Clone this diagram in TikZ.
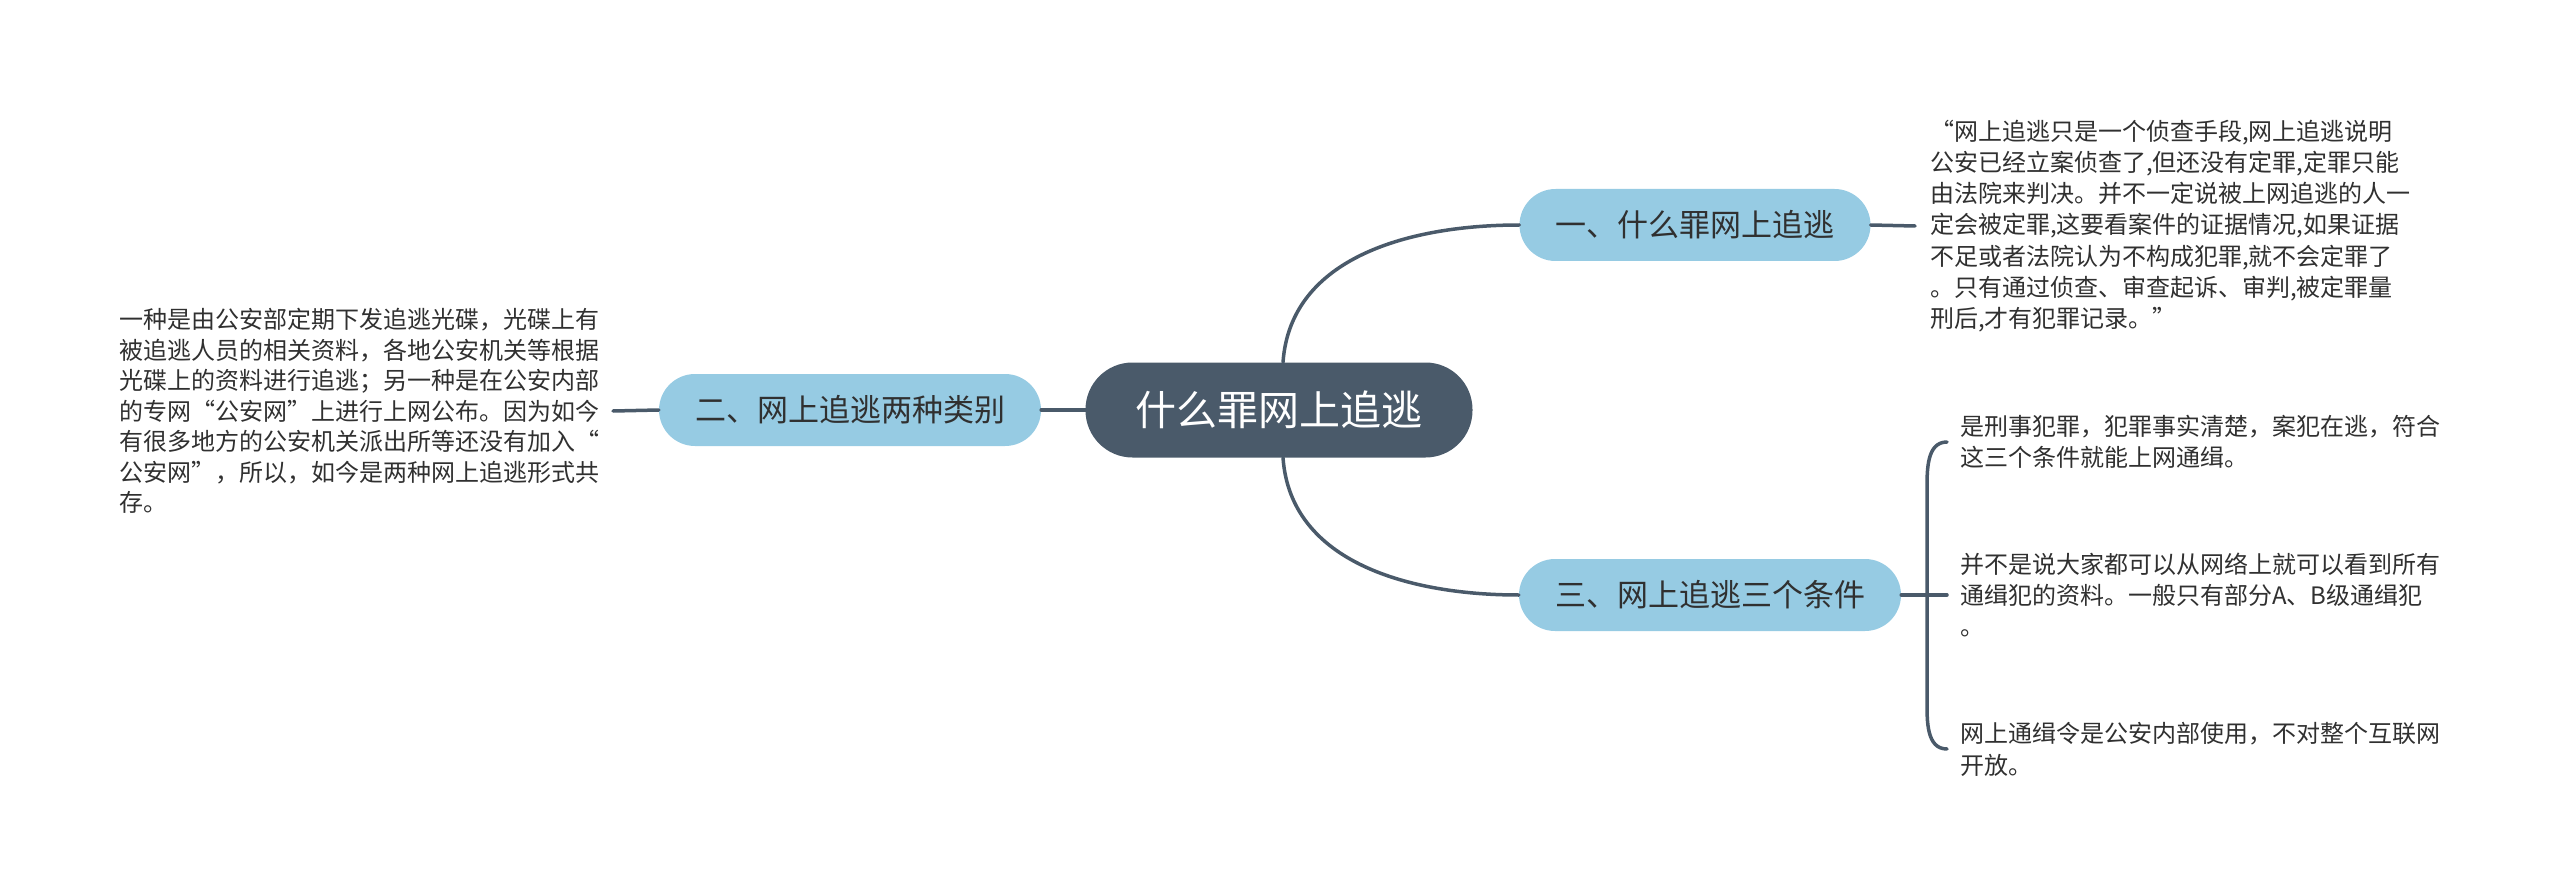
\documentclass[tikz,border=0pt]{standalone}
\usepackage{fontspec}
\setmainfont{Noto Sans CJK SC}
\usepackage{tikz}
\definecolor{slate}{HTML}{4A5A6A}
\definecolor{skyblue}{HTML}{96CBE3}
\definecolor{inkgray}{HTML}{303030}
\begin{document}
\begin{tikzpicture}[line cap=round,line join=round,x=1pt,y=-1pt,
  rootbox/.style={rounded corners=47pt,fill=slate,text=white,font=\fontsize{41}{41}\selectfont,minimum width=387pt,minimum height=95pt,inner sep=0pt},
  topic/.style={rounded corners=36pt,fill=skyblue,text=inkgray,font=\fontsize{31}{31}\selectfont,inner xsep=36pt,inner ysep=0pt,minimum height=72pt},
  note/.style={align=left,text=inkgray,inner xsep=13pt,inner ysep=0pt},
  link/.style={draw=slate,line width=3.5pt}]
\useasboundingbox (0,0) rectangle (2560,896);
\node[rootbox] (root) at (1279,410) {什么罪网上追逃};
\node[topic] (t1) at (1695,225) {一、什么罪网上追逃};
\node[topic] (t2) at (850,410) {二、网上追逃两种类别};
\node[topic] (t3) at (1710,595) {三、网上追逃三个条件};
\node[note,anchor=west,inner xsep=15pt,font=\fontsize{24}{31.2}\selectfont] (d1) at (1915,226) {“网上追逃只是一个侦查手段,网上追逃说明\\公安已经立案侦查了,但还没有定罪,定罪只能\\由法院来判决。并不一定说被上网追逃的人一\\定会被定罪,这要看案件的证据情况,如果证据\\不足或者法院认为不构成犯罪,就不会定罪了\\。只有通过侦查、审查起诉、审判,被定罪量\\刑后,才有犯罪记录。”};
\node[note,anchor=east,font=\fontsize{24}{30.5}\selectfont] (d2) at (613,411) {一种是由公安部定期下发追逃光碟，光碟上有\\被追逃人员的相关资料，各地公安机关等根据\\光碟上的资料进行追逃；另一种是在公安内部\\的专网“公安网”上进行上网公布。因为如今\\有很多地方的公安机关派出所等还没有加入“\\公安网”，所以，如今是两种网上追逃形式共\\存。};
\node[note,anchor=west,font=\fontsize{24}{31}\selectfont] (c1) at (1947,442) {是刑事犯罪，犯罪事实清楚，案犯在逃，符合\\这三个条件就能上网通缉。};
\node[note,anchor=west,font=\fontsize{24}{31}\selectfont] (c2) at (1947,595) {并不是说大家都可以从网络上就可以看到所有\\通缉犯的资料。一般只有部分A、B级通缉犯\\。};
\node[note,anchor=west,font=\fontsize{24}{32}\selectfont] (c3) at (1947,749) {网上通缉令是公安内部使用，不对整个互联网\\开放。};
\draw[link] ([xshift=4pt]root.north) to[out=86,in=180] (t1.west);
\draw[link] ([xshift=4pt]root.south) to[out=-86,in=180] (t3.west);
\draw[link] (root.west) -- (t2.east);
\draw[link] (t2.west) -- (d2.east);
\draw[link] (t1.east) -- (d1.west);
\draw[link] (t3.east) -- (c2.west);
\draw[link] (c1.west) to[out=180,in=90] (1927,490) -- (1927,700) to[out=-90,in=180] (c3.west);
\end{tikzpicture}
\end{document}
